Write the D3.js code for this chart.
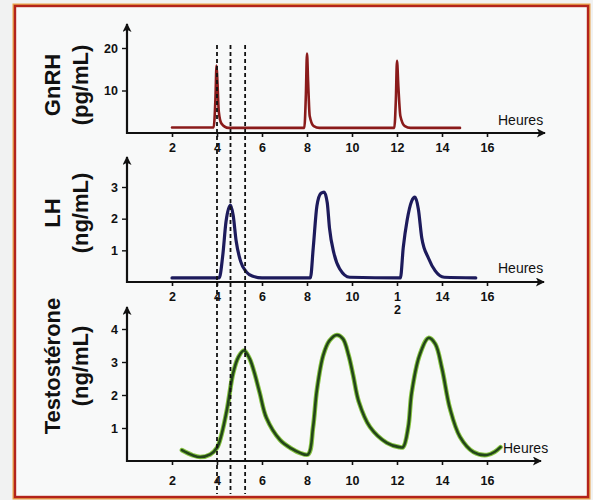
<!DOCTYPE html>
<html>
<head>
<meta charset="utf-8">
<script src="https://cdn.jsdelivr.net/npm/d3@7"></script>
<style>
  html, body { margin: 0; padding: 0; background: #f1f2f2; }
  svg { display: block; }
  text { font-family: "Liberation Sans", Arial, sans-serif; fill: #111; }
</style>
</head>
<body>
<svg id="chart" width="593" height="500"></svg>
<script>
// ---------------- DATA ----------------
const hourTicks = [2, 4, 6, 8, 10, 12, 14, 16];
const gnrhTicks = [10, 20];
const lhTicks = [1, 2, 3];
const testoTicks = [1, 2, 3, 4];
const dashedHours = [4.0, 4.6, 5.25];

const gnrhHours  = [2, 3.85, 3.93, 3.98, 4.02, 4.08, 4.2, 4.5, 7.88, 7.95, 8.0, 8.05, 8.12, 8.3, 8.55, 11.88, 11.95, 12.0, 12.06, 12.15, 12.35, 12.6, 14.8];
const gnrhValues = [1.3, 1.3, 8, 15.9, 12, 5, 2.2, 1.2, 1.2, 9, 18.7, 12, 4, 1.6, 1.2, 1.2, 8, 17, 11, 4, 1.6, 1.2, 1.2];

const lhHours  = [2, 4.1, 4.25, 4.4, 4.6, 4.72, 4.85, 5.05, 5.3, 5.6, 6.0, 8.15, 8.28, 8.44, 8.62, 8.76, 8.9, 9.0, 9.2, 9.45, 9.9, 12.15, 12.28, 12.45, 12.65, 12.8, 12.95, 13.1, 13.4, 13.7, 14.1, 15.5];
const lhValues = [0.13, 0.13, 0.8, 1.9, 2.43, 2.1, 1.3, 0.65, 0.32, 0.18, 0.13, 0.13, 1.1, 2.4, 2.8, 2.84, 2.5, 1.7, 0.9, 0.42, 0.15, 0.13, 1.1, 1.95, 2.55, 2.68, 2.3, 1.4, 0.75, 0.35, 0.15, 0.13];

const testoHours  = [2.44, 2.9, 3.25, 3.7, 4.0, 4.2, 4.44, 4.72, 4.95, 5.2, 5.45, 5.65, 5.9, 6.2, 6.8, 7.3, 7.7, 8.05, 8.27, 8.44, 8.72, 9.0, 9.33, 9.6, 9.85, 10.05, 10.3, 10.8, 11.55, 12.1, 12.27, 12.5, 12.65, 13.0, 13.4, 13.7, 14.0, 14.35, 14.8, 15.4, 16.0, 16.35, 16.6];
const testoValues = [0.33, 0.18, 0.12, 0.2, 0.4, 0.8, 1.55, 2.67, 3.15, 3.35, 3.1, 2.7, 2.06, 1.3, 0.64, 0.38, 0.24, 0.2, 1.03, 2.15, 3.2, 3.65, 3.82, 3.7, 3.2, 2.6, 1.8, 1.03, 0.55, 0.42, 0.42, 1.03, 2.06, 3.2, 3.73, 3.55, 2.8, 1.6, 0.73, 0.27, 0.18, 0.28, 0.42];

// ---------------- LAYOUT ----------------
const svg = d3.select("#chart");

svg.append("rect").attr("x", 0).attr("y", 0).attr("width", 593).attr("height", 500).attr("fill", "#f1f2f2");
svg.append("rect").attr("x", 13.5).attr("y", 4.5).attr("width", 576).attr("height", 494)
  .attr("fill", "none").attr("stroke", "#e9a24a").attr("stroke-width", 2);
svg.append("rect").attr("x", 15).attr("y", 6).attr("width", 573).attr("height", 491)
  .attr("fill", "#f8f9f9").attr("stroke", "#b3231b").attr("stroke-width", 2.4);

const x = d3.scaleLinear().domain([0, 16]).range([127, 487]);

const defs = svg.append("defs");
defs.append("marker").attr("id", "arrow").attr("viewBox", "0 0 10 10")
  .attr("refX", 9).attr("refY", 5).attr("markerWidth", 10).attr("markerHeight", 9)
  .attr("markerUnits", "userSpaceOnUse").attr("orient", "auto")
  .append("path").attr("d", "M0,0 L10,5 L0,10 L2.5,5 Z").attr("fill", "#111");

const panels = [
  { key: "gnrh", hours: gnrhHours, values: gnrhValues, ticks: gnrhTicks, y0: 133, yTop: 48, vTop: 20, axisTop: 24,
    color: "#8a1b1b", width: 2.6, labels: ["GnRH", "(pg/mL)"], labelY: 85, hourLabelY: 152, heuresX: 498, heuresY: 125, arrowEnd: 545,
    curve: d3.curveMonotoneX },
  { key: "lh", hours: lhHours, values: lhValues, ticks: lhTicks, y0: 282, yTop: 187, vTop: 3, axisTop: 157,
    color: "#1d1b5c", width: 3.2, labels: ["LH", "(ng/mL)"], labelY: 213, hourLabelY: 301, heuresX: 498, heuresY: 273, arrowEnd: 544,
    curve: d3.curveMonotoneX },
  { key: "testo", hours: testoHours, values: testoValues, ticks: testoTicks, y0: 461, yTop: 329, vTop: 4, axisTop: 307,
    color: "#23461a", width: 2.6, halo: "#86c440", labels: ["Testostérone", "(ng/mL)"], labelY: 366, hourLabelY: 485, heuresX: 503, heuresY: 453, arrowEnd: 541,
    curve: d3.curveCatmullRom.alpha(0.5) }
];

panels.forEach(p => {
  const y = d3.scaleLinear().domain([0, p.vTop]).range([p.y0, p.yTop]);
  const g = svg.append("g").attr("class", "panel-" + p.key);

  g.append("line").attr("x1", x(0)).attr("x2", x(0)).attr("y1", p.y0 + 1).attr("y2", p.axisTop)
    .attr("stroke", "#111").attr("stroke-width", 2.2).attr("marker-end", "url(#arrow)");
  g.append("line").attr("x1", x(0) - 1).attr("x2", p.arrowEnd).attr("y1", p.y0).attr("y2", p.y0)
    .attr("stroke", "#111").attr("stroke-width", 2.2).attr("marker-end", "url(#arrow)");

  const xa = d3.axisBottom(x).tickValues(hourTicks).tickSize(4).tickSizeOuter(0).tickFormat(d3.format("d"));
  const xg = g.append("g").attr("transform", `translate(0,${p.y0})`).call(xa);
  xg.select(".domain").remove();
  xg.selectAll(".tick line").attr("stroke", "#111").attr("stroke-width", 1.6);
  xg.selectAll(".tick text").attr("y", p.hourLabelY - p.y0 - 9).attr("dy", "0.71em")
    .attr("font-size", 12.5).attr("font-weight", "bold").attr("fill", "#111")
    .attr("font-family", "Liberation Sans, Arial, sans-serif");
  if (p.key === "lh") {
    // the reference prints "12" split on two lines in this panel
    xg.selectAll(".tick text").filter(d => d === 12).each(function () {
      const t = d3.select(this); t.text(null);
      t.append("tspan").attr("x", 0).text("1");
      t.append("tspan").attr("x", 0).attr("dy", "1.05em").text("2");
    });
  }

  const ya = d3.axisLeft(y).tickValues(p.ticks).tickSize(5).tickSizeOuter(0).tickFormat(d3.format("d"));
  const yg = g.append("g").attr("transform", `translate(${x(0)},0)`).call(ya);
  yg.select(".domain").remove();
  yg.selectAll(".tick line").attr("stroke", "#111").attr("stroke-width", 1.4);
  yg.selectAll(".tick text").attr("x", -9).attr("font-size", 12.5).attr("font-weight", "bold").attr("fill", "#111")
    .attr("font-family", "Liberation Sans, Arial, sans-serif");

  g.append("text").attr("x", p.heuresX).attr("y", p.heuresY).attr("font-size", 14).text("Heures");

  g.append("text").attr("transform", `translate(60,${p.labelY}) rotate(-90)`).attr("text-anchor", "middle")
    .attr("font-size", 22).attr("font-weight", "bold").text(p.labels[0]);
  g.append("text").attr("transform", `translate(88,${p.labelY}) rotate(-90)`).attr("text-anchor", "middle")
    .attr("font-size", 22).attr("font-weight", "bold").text(p.labels[1]);

  const pts = p.hours.map((h, i) => [h, p.values[i]]);
  const line = d3.line().x(d => x(d[0])).y(d => y(d[1])).curve(p.curve);
  if (p.halo) {
    g.append("path").attr("d", line(pts)).attr("fill", "none").attr("stroke", p.halo)
      .attr("stroke-width", p.width + 2).attr("stroke-linejoin", "round").attr("stroke-linecap", "round");
  }
  g.append("path").attr("d", line(pts)).attr("fill", "none").attr("stroke", p.color)
    .attr("stroke-width", p.width).attr("stroke-linejoin", "round").attr("stroke-linecap", "round");
});

svg.append("g").selectAll("line").data(dashedHours).join("line")
  .attr("x1", d => x(d)).attr("x2", d => x(d)).attr("y1", 45).attr("y2", 494)
  .attr("stroke", "#111").attr("stroke-width", 1.8).attr("stroke-dasharray", "4,3");
</script>
</body>
</html>
